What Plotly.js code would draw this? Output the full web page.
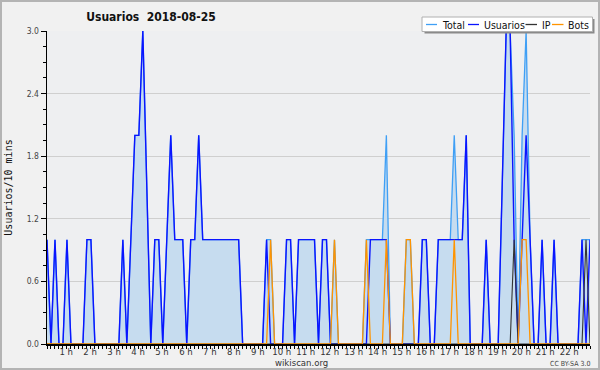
<!DOCTYPE html>
<html><head><meta charset="utf-8">
<script src="https://cdn.plot.ly/plotly-3.0.1.min.js"></script>
<style>
html,body{margin:0;padding:0;background:#f1f1f1}
#wrap{position:relative;width:600px;height:370px}
#chart{width:600px;height:370px}
#frame{position:absolute;left:0;top:0;width:600px;height:370px;box-sizing:border-box;border:2px solid #b4b4b4;pointer-events:none}
</style>
</head><body><div id="wrap"><div id="chart"></div><div id="frame"></div></div>
<script>
// one value per 10-minute slot, from 00:00 to 22:40
const usuarios = [
 1,0,1,0,0,1,0,0,0,0,
 1,1,0,0,0,0,0,0,0,1,
 0,1,2,2,3,1.5,0,1,1,0,
 1,2,1,1,1,0,1,1,2,1,
 1,1,1,1,1,1,1,1,1,0,
 0,0,0,0,0,1,0,0,0,0,
 1,1,0,1,1,1,1,1,0,1,
 1,0,0,0,0,0,0,0,0,0,
 0,1,1,1,1,1,0,0,0,0,
 0,0,0,0,1,1,0,0,1,1,
 1,1,1,1,1,2,0,0,0,0,
 1,0,0,0,1.5,3,3,1,0,1,
 2,1,0,0,1,0,0,1,0,0,
 0,0,0,0,1,0,1];
const bots = [
 0,0,0,0,0,0,0,0,0,0,
 0,0,0,0,0,0,0,0,0,0,
 0,0,0,0,0,0,0,0,0,0,
 0,0,0,0,0,0,0,0,0,0,
 0,0,0,0,0,0,0,0,0,0,
 0,0,0,0,0,0,1,0,0,0,
 0,0,0,0,0,0,0,0,0,0,
 0,0,1,0,0,0,0,0,0,0,
 1,0,0,0,0,1,0,0,0,0,
 1,1,0,0,0,0,0,0,0,0,
 0,0,1,0,0,0,0,0,0,0,
 0,0,0,0,0,0,0,0,0,1,
 1,0,0,0,0,0,0,0,0,0,
 0,0,0,0,0,0,0];
const ip = [
 0,0,0,0,0,0,0,0,0,0,
 0,0,0,0,0,0,0,0,0,0,
 0,0,0,0,0,0,0,0,0,0,
 0,0,0,0,0,0,0,0,0,0,
 0,0,0,0,0,0,0,0,0,0,
 0,0,0,0,0,0,0,0,0,0,
 0,0,0,0,0,0,0,0,0,0,
 0,0,0,0,0,0,0,0,0,0,
 0,0,0,0,0,0,0,0,0,0,
 0,0,0,0,0,0,0,0,0,0,
 0,0,0,0,0,0,0,0,0,0,
 0,0,0,0,0,0,0,1,0,0,
 0,0,0,0,0,0,0,0,0,0,
 0,0,0,0,0,1,0];
const total = [
 1,0,1,0,0,1,0,0,0,0,
 1,1,0,0,0,0,0,0,0,1,
 0,1,2,2,3,1.5,0,1,1,0,
 1,2,1,1,1,0,1,1,2,1,
 1,1,1,1,1,1,1,1,1,0,
 0,0,0,0,0,1,1,0,0,0,
 1,1,0,1,1,1,1,1,0,1,
 1,0,1,0,0,0,0,0,0,0,
 1,1,1,1,1,2,0,0,0,0,
 1,1,0,0,1,1,0,0,1,1,
 1,1,2,1,1,2,0,0,0,0,
 1,0,0,0,1.5,3,3,2,0,2,
 3,1,0,0,1,0,0,1,0,0,
 0,0,0,0,1,1,1];
const tickHours = [1,2,3,4,5,6,7,8,9,10,11,12,13,14,15,16,17,18,19,20,21,22];
const tickLabels = ['1 h','2 h','3 h','4 h','5 h','6 h','7 h','8 h','9 h','10 h','11 h','12 h','13 h','14 h','15 h','16 h','17 h','18 h','19 h','20 h','21 h','22 h'];
const yTicks = [0,0.6,1.2,1.8,2.4,3.0];
const yLabels = ['0.0','0.6','1.2','1.8','2.4','3.0'];
const seriesNames = ['Total','Usuarios','IP','Bots'];
const seriesColors = ['#3f9ff5','#0a14ff','#333333','#ff9400'];

const hours = usuarios.map((_, i) => i / 6);

const L = 47, R = 590, T = 31, B = 344;
const px = x => (x - L) / (R - L);
const py = y => (B - y) / (B - T);

const traces = [
 {x: hours, y: total, name: seriesNames[0], type: 'scatter', mode: 'lines', fill: 'tozeroy', fillcolor: '#c6dcef', line: {color: seriesColors[0], width: 1.3}},
 {x: hours, y: usuarios, name: seriesNames[1], type: 'scatter', mode: 'lines', line: {color: seriesColors[1], width: 1.4}},
 {x: hours, y: ip, name: seriesNames[2], type: 'scatter', mode: 'lines', line: {color: seriesColors[2], width: 1.1}},
 {x: hours, y: bots, name: seriesNames[3], type: 'scatter', mode: 'lines', line: {color: seriesColors[3], width: 1.3}}
];

const fontC = 'DejaVu Sans Condensed, DejaVu Sans, sans-serif';
const shapes = [
 {type: 'rect', xref: 'paper', yref: 'paper', x0: px(424.5), x1: px(594.5), y0: py(33.5), y1: py(19), fillcolor: '#8a8a8a', line: {width: 0}},
 {type: 'rect', xref: 'paper', yref: 'paper', x0: px(422), x1: px(592.5), y0: py(31.5), y1: py(17), fillcolor: '#ffffff', line: {color: '#b0b0b0', width: 1}}
];
const legLines = [[426, 437], [468, 479], [525.5, 537], [552, 563.5]];
const legText = [442, 484, 542, 568];
const annotations = [];
seriesNames.forEach((n, k) => {
  shapes.push({type: 'line', xref: 'paper', yref: 'paper', x0: px(legLines[k][0]), x1: px(legLines[k][1]), y0: py(24.5), y1: py(24.5), line: {color: seriesColors[k], width: 1.3}});
  annotations.push({xref: 'paper', yref: 'paper', x: px(legText[k] - 2), y: py(24.5), xanchor: 'left', yanchor: 'middle', showarrow: false, text: n, font: {family: fontC, size: 10.5, color: '#111'}});
});
annotations.push({xref: 'paper', yref: 'paper', x: px(301), y: py(362.5), xanchor: 'center', yanchor: 'middle', showarrow: false, text: 'wikiscan.org', font: {family: fontC, size: 9.5, color: '#333'}});
annotations.push({xref: 'paper', yref: 'paper', x: px(570), y: py(364), xanchor: 'center', yanchor: 'middle', showarrow: false, text: 'CC BY-SA 3.0', font: {family: fontC, size: 7, color: '#444'}});

const layout = {
  width: 600, height: 370,
  paper_bgcolor: '#f1f1f1', plot_bgcolor: '#eeeff1',
  margin: {l: L, r: 600 - R, t: T, b: 370 - B, pad: 0},
  showlegend: false,
  title: {text: 'Usuarios\u00a0\u00a02018-08-25', x: 151/600, xanchor: 'center', y: 1 - 17/370, yanchor: 'middle', xref: 'container', yref: 'container',
          font: {family: fontC, size: 12, weight: 'bold', color: '#111'}},
  xaxis: {range: [0, 136/6], showgrid: false, zeroline: false, showline: true, linecolor: '#000', linewidth: 1.5,
          tickmode: 'array', tickvals: tickHours.map(h => h - 0.2), ticktext: tickLabels, ticks: '', ticklabelstandoff: -2,
          tickfont: {family: fontC, size: 9.5, color: '#333'},
          minor: {tickmode: 'linear', tick0: 0, dtick: 1/6, ticks: 'outside', ticklen: 3, tickcolor: '#000', tickwidth: 1, showgrid: false}},
  yaxis: {range: [0, 3], showgrid: true, gridcolor: '#cfcfcf', gridwidth: 1, zeroline: false, showline: true, linecolor: '#000', linewidth: 1.5,
          tickmode: 'array', tickvals: yTicks, ticktext: yLabels, ticks: 'outside', ticklen: 5, tickcolor: '#000',
          tickfont: {family: fontC, size: 8.5, color: '#444'},
          minor: {tickmode: 'linear', tick0: 0, dtick: 0.15, ticks: 'outside', ticklen: 3, tickcolor: '#000', showgrid: false},
          title: {text: 'Usuarios/10 mins', standoff: 12, font: {family: 'DejaVu Sans Mono, monospace', size: 10, color: '#111'}}},
  shapes: shapes,
  annotations: annotations
};
Plotly.newPlot('chart', traces, layout, {displayModeBar: false, staticPlot: true});
</script>
</body></html>
